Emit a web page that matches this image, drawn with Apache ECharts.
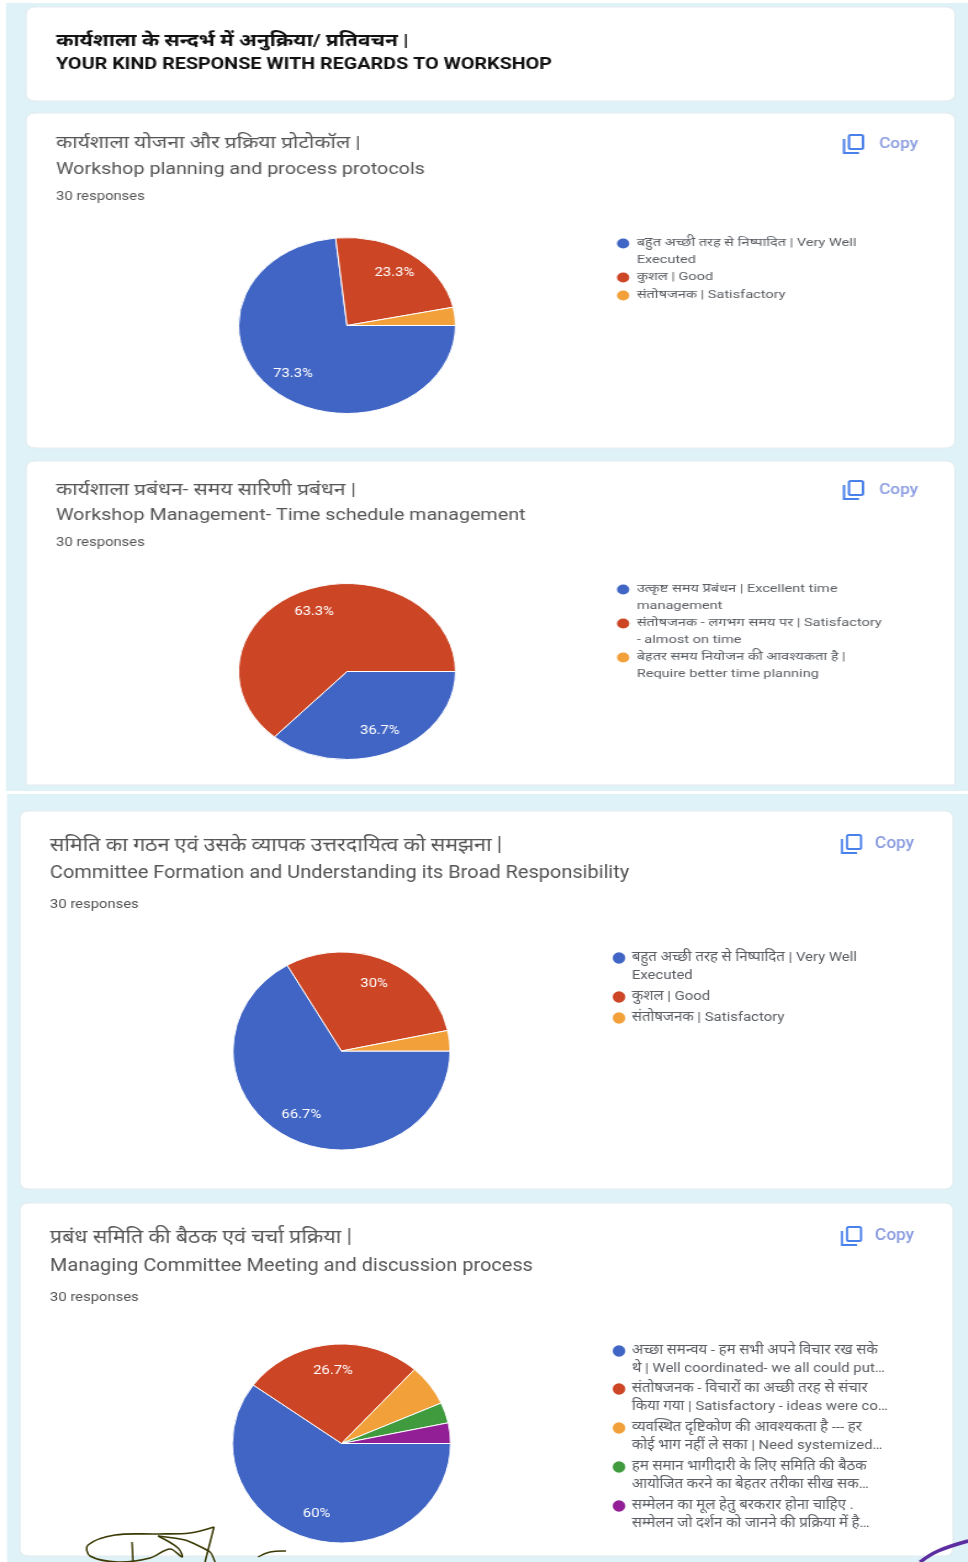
<!DOCTYPE html>
<html><head><meta charset="utf-8">
<script src="https://cdn.jsdelivr.net/npm/echarts@6/dist/echarts.min.js"></script>
<style>
html,body{margin:0;padding:0;background:#fff;width:968px;height:1562px;overflow:hidden}
.sheet{position:absolute;left:0;transform-origin:0 0;filter:blur(0.4px)}
</style></head><body>
<div id="top" class="sheet"></div>
<div id="bottom" class="sheet"></div>
<script>
const colors = ['#4165c4', '#cc4525', '#f2a03a', '#3f9b3e', '#921f96'];

const counts1 = [22, 7, 1];
const counts2 = [11, 19, 0];
const counts3 = [20, 9, 1];
const counts4 = [18, 8, 2, 1, 1];

const names1 = ['बहुत अच्छी तरह से निष्पादित | Very Well\nExecuted', 'कुशल | Good', 'संतोषजनक | Satisfactory'];
const names2 = ['उत्कृष्ट समय प्रबंधन | Excellent time\nmanagement', 'संतोषजनक - लगभग समय पर | Satisfactory\n- almost on time', 'बेहतर समय नियोजन की आवश्यकता है |\nRequire better time planning'];
const names3 = ['बहुत अच्छी तरह से निष्पादित | Very Well\nExecuted', 'कुशल | Good', 'संतोषजनक | Satisfactory'];
const names4 = ['अच्छा समन्वय - हम सभी अपने विचार रख सके\nथे | Well coordinated- we all could put…', 'संतोषजनक - विचारों का अच्छी तरह से संचार\nकिया गया | Satisfactory - ideas were co…', 'व्यवस्थित दृष्टिकोण की आवश्यकता है --- हर\nकोई भाग नहीं ले सका | Need systemized…', 'हम समान भागीदारी के लिए समिति की बैठक\nआयोजित करने का बेहतर तरीका सीख सक…', 'सम्मेलन का मूल हेतु बरकरार होना चाहिए .\nसम्मेलन जो दर्शन को जानने की प्रक्रिया में है…'];

const headingHi = 'कार्यशाला के सन्दर्भ में अनुक्रिया/ प्रतिवचन |';
const headingEn = 'YOUR KIND RESPONSE WITH REGARDS TO WORKSHOP';
const titlesHi = ['कार्यशाला योजना और प्रक्रिया प्रोटोकॉल |', 'कार्यशाला प्रबंधन- समय सारिणी प्रबंधन |', 'समिति का गठन एवं उसके व्यापक उत्तरदायित्व को समझना |', 'प्रबंध समिति की बैठक एवं चर्चा प्रक्रिया |'];
const titlesEn = ['Workshop planning and process protocols', 'Workshop Management- Time schedule management', 'Committee Formation and Understanding its Broad Responsibility', 'Managing Committee Meeting and discussion process'];
const responses = '30 responses';
const copyLabel = 'Copy';

const FONT = 'Roboto, "Noto Sans", "Noto Sans CJK SC", sans-serif';

function build(cfg) {
  const k = cfg.k, off = cfg.off, f = cfg.fs;
  const X = x => x / k, Y = y => y - off;
  const g = [];
  g.push({type:'rect', z:0, shape:{x:X(cfg.bg[0]), y:Y(cfg.bg[1]), width:X(cfg.bg[2]-cfg.bg[0]), height:cfg.bg[3]-cfg.bg[1]}, style:{fill:'#dff2f7'}});
  cfg.cards.forEach(c => g.push({type:'rect', z:1, shape:{x:X(c[0]), y:Y(c[1]), width:X(c[2]-c[0]), height:c[3]-c[1], r:c[4]||7}, style:{fill:'#fff', stroke:'#e3ebee', lineWidth:1}}));
  const text = (x, y, s, size, color, weight) => g.push({type:'text', z:3, x:X(x), y:Y(y), style:{text:s, font:(weight||'normal')+' '+size+'px '+FONT, fill:color, textVerticalAlign:'middle', verticalAlign:'middle'}});
  (cfg.texts||[]).forEach(t => text.apply(null, t));
  const series = [], legend = [];
  cfg.pies.forEach(p => {
    const data = p.counts.map((v,i) => ({name:p.names[i], value:v, itemStyle:{color:colors[i]}}));
    series.push({type:'pie', silent:true, animation:false, center:[X(p.cx), Y(p.cy)], radius:p.r, startAngle:0, clockwise:true,
      label:{show:false}, labelLine:{show:false}, itemStyle:{borderColor:'#fff', borderWidth:1}, data});
    series.push({type:'pie', silent:true, animation:false, z:3, center:[X(p.cx), Y(p.cy)], radius:[p.r*0.42, p.r], startAngle:0, clockwise:true,
      labelLine:{show:false},
      label:{show:true, position:'inside', color:'#fff', fontFamily:FONT, fontSize:f.label,
        formatter: q => q.percent >= 10 ? (+q.percent.toFixed(1)) + '%' : ''},
      data:p.counts.map((v,i) => ({name:p.names[i], value:v, itemStyle:{color:'transparent'}}))});
    p.names.forEach((n,i) => {
      const multi = n.indexOf('\n') >= 0;
      legend.push({data:[n], orient:'vertical', left:X(p.legX), top:Y(p.legY[i]) - f.lh*(multi?1.5:0.5), padding:0,
        itemWidth:f.sym, itemHeight:f.sym, icon:'circle', itemGap:0, selectedMode:false, align:'left',
        textStyle:{fontFamily:FONT, fontSize:f.legend, lineHeight:f.lh, color:'#5a5e63'},
        formatter: name => multi ? '\n'+name : name});
    });
    const ix=p.iconX, iy=p.iconY;
    g.push({type:'rect', z:3, shape:{x:X(ix+5), y:Y(iy-9), width:X(14), height:14, r:1.5}, style:{fill:'none', stroke:'#4a80ea', lineWidth:2}});
    g.push({type:'polyline', z:3, shape:{points:[[X(ix),Y(iy-5)],[X(ix),Y(iy+9)],[X(ix+15),Y(iy+9)]]}, style:{fill:'none', stroke:'#4a80ea', lineWidth:2}});
    text(ix+cfg.copyDx, iy, copyLabel, f.copy, '#8a9ce0', '500');
  });
  (cfg.strokes||[]).forEach(s => g.push({type:'polyline', z:100, shape:{points:s.pts.map(q=>[X(q[0]),Y(q[1])]), smooth:s.smooth}, style:{fill:'none', stroke:s.color, lineWidth:s.w}}));
  return {animation:false, backgroundColor:'transparent', graphic:{elements:g}, legend, series};
}

const topCfg = {k:1.233, off:0, copyDx:35,
  bg:[6,3,968,791],
  fs:{label:12, legend:11.8, lh:16.5, sym:12, copy:14},
  cards:[[26,7,955,101],[26,113,955,448],[26,461,955,785,[7,7,0,0]]],
  texts:[
    [56,41.5,headingHi,17,'#111','bold'],[56,65,headingEn,16,'#111','bold'],
    [56,144,titlesHi[0],17,'#555'],[56,169.5,titlesEn[0],16,'#555'],[56,197,responses,12,'#555'],
    [56,491,titlesHi[1],17,'#555'],[56,515.5,titlesEn[1],16,'#555'],[56,543,responses,12,'#555']],
  pies:[
    {counts:counts1,names:names1,cx:347,cy:325.5,r:88,legX:614.5,legY:[243.5,277.5,295.5],iconX:844,iconY:144},
    {counts:counts2,names:names2,cx:347,cy:671.5,r:88,legX:614.5,legY:[589.5,623.5,657.5],iconX:844,iconY:490}]
};
const botCfg = {k:1.096, off:792, copyDx:33,
  bg:[7,794,968,1562],
  fs:{label:13.5, legend:13.6, lh:18, sym:13.5, copy:15.75},
  cards:[[20,811,953,1189],[20,1203,953,1556]],
  texts:[
    [50,846,titlesHi[2],19.5,'#555'],[50,873,titlesEn[2],18.2,'#555'],[50,905,responses,13.5,'#555'],
    [50,1238,titlesHi[3],19.5,'#555'],[50,1266,titlesEn[3],18.2,'#555'],[50,1298,responses,13.5,'#555']],
  pies:[
    {counts:counts3,names:names3,cx:341.5,cy:1051,r:99,legX:610.5,legY:[958,997,1018],iconX:842,iconY:844},
    {counts:counts4,names:names4,cx:341.5,cy:1443.5,r:99.5,legX:610.5,legY:[1351,1389,1428,1467,1506],iconX:842,iconY:1236}],
  strokes:[
    {color:'#3b3a05',w:1.6,smooth:0.35,pts:[[214,1527],[190,1533],[158,1534],[115,1535],[88,1545],[90,1556],[118,1562],[150,1558],[170,1549],[182,1557],[178,1548],[158,1536]]},
    {color:'#3b3a05',w:1.6,smooth:0.2,pts:[[158,1536],[185,1540],[210,1552],[215,1562]]},
    {color:'#3b3a05',w:1.6,smooth:0,pts:[[214,1527],[205,1562]]},
    {color:'#3b3a05',w:1.6,smooth:0,pts:[[132,1542],[133,1562]]},
    {color:'#3b3a05',w:1.4,smooth:0.4,pts:[[258,1557],[270,1552],[286,1551]]},
    {color:'#5b2da0',w:3.5,smooth:0.4,pts:[[920,1562],[938,1551],[968,1541]]}]
};

function mount(id, cfg, top, height) {
  const el = document.getElementById(id);
  el.style.top = top+'px';
  el.style.width = (968/cfg.k)+'px';
  el.style.height = height+'px';
  el.style.transform = 'scaleX('+cfg.k+')';
  const chart = echarts.init(el, null, {renderer:'canvas'});
  chart.setOption(build(cfg));
}
mount('top', topCfg, 0, 792);
mount('bottom', botCfg, 792, 770);
</script>
</body></html>
